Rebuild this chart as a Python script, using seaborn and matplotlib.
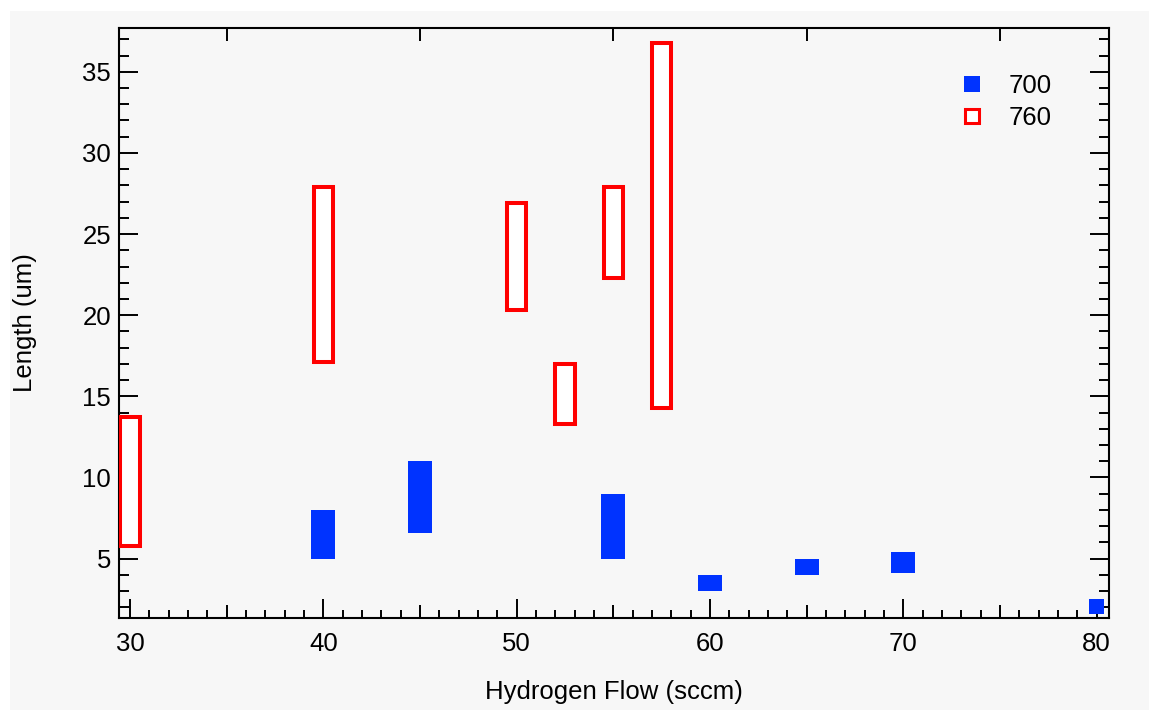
import numpy as np
import pandas as pd
import matplotlib
matplotlib.use("Agg")
import matplotlib.pyplot as plt
from matplotlib.ticker import MultipleLocator
from matplotlib.lines import Line2D
from matplotlib.patches import Rectangle
import seaborn as sns

# ---- data ----
flow_700 = [40, 45, 55, 60, 65, 70, 80]
low_700 = [5.0, 6.6, 5.0, 3.0, 4.0, 4.1, 1.6]
high_700 = [8.0, 11.0, 9.0, 4.0, 5.0, 5.4, 2.5]

flow_760 = [30, 40, 50, 52.5, 55, 57.5]
low_760 = [5.8, 17.1, 20.3, 13.3, 22.3, 14.3]
high_760 = [13.7, 27.9, 26.9, 17.0, 27.9, 36.8]

series_labels = ["700", "760"]
x_label = "Hydrogen Flow (sccm)"
y_label = "Length (um)"
x_ticks = [30, 40, 50, 60, 70, 80]
y_ticks = [5, 10, 15, 20, 25, 30, 35]

df700 = pd.DataFrame({"flow": flow_700, "low": low_700, "high": high_700})
df700["span"] = df700["high"] - df700["low"]
df760 = pd.DataFrame({"flow": flow_760, "low": low_760, "high": high_760})
df760["span"] = df760["high"] - df760["low"]

BLUE = "#0033FF"
RED = "#FF0000"
BG = "#F7F7F7"

sns.set_theme(style="ticks")
plt.rcParams["font.family"] = ["Liberation Sans", "DejaVu Sans"]

fig = plt.figure(figsize=(11.49, 7.10), dpi=100, facecolor="white")
fig.patches.append(Rectangle((10 / 1149, 0), 1 - 10 / 1149, 1 - 11 / 710,
                             transform=fig.transFigure, facecolor=BG,
                             edgecolor="none", zorder=-10))
ax = fig.add_axes([119.3 / 1149, 1 - 617.7 / 710, (1109 - 119.3) / 1149, (617.7 - 28.3) / 710])
ax.set_facecolor(BG)

# the 80 sccm bar is drawn narrower in the reference
main700 = df700.iloc[:-1]
last700 = df700.iloc[-1:]
sns.barplot(data=main700, x="flow", y="span", bottom=main700["low"].to_numpy(),
            native_scale=True, width=1.25 / 5, color=BLUE, saturation=1,
            linewidth=0, errorbar=None, ax=ax, zorder=3)
sns.barplot(data=last700, x="flow", y="span", bottom=last700["low"].to_numpy(),
            native_scale=True, width=0.8, color=BLUE, saturation=1,
            linewidth=0, errorbar=None, ax=ax, zorder=3)
sns.barplot(data=df760, x="flow", y="span", bottom=df760["low"].to_numpy(),
            native_scale=True, width=1.0 / 2.5, fill=False, color=RED,
            saturation=1, facecolor="white", edgecolor=RED, linewidth=2.9,
            errorbar=None, ax=ax, zorder=3)

ax.set_xlim(29.45, 80.64)
ax.set_ylim(1.36, 37.68)

ax.set_xticks(x_ticks)
ax.set_yticks(y_ticks)
ax.xaxis.set_minor_locator(MultipleLocator(1))
ax.yaxis.set_minor_locator(MultipleLocator(1))
ax.tick_params(which="both", direction="in", top=True, right=True,
               width=1.4, color="black", labelsize=18.5, labelcolor="black")
ax.tick_params(which="major", length=13.5)
ax.tick_params(axis="x", which="major", pad=10)
ax.tick_params(axis="y", which="major", pad=6)
ax.tick_params(axis="y", which="minor", length=7.2)
ax.tick_params(axis="x", which="minor", length=6)

for s in ax.spines.values():
    s.set_visible(True)
    s.set_linewidth(1.5)
    s.set_color("black")

# medium ticks at the odd multiples of 5 on x
ax2 = ax.twiny()
ax2.set_xlim(ax.get_xlim())
ax2.set_xticks([35, 45, 55, 65, 75])
ax2.tick_params(which="major", direction="in", top=True, bottom=True,
                labeltop=False, labelbottom=False, length=9.5, width=1.4, color="black")
ax2.xaxis.set_minor_locator(plt.NullLocator())
for s in ax2.spines.values():
    s.set_visible(False)
ax2.patch.set_visible(False)

ax.set_xlabel(x_label, fontsize=18.5, color="black")
ax.set_ylabel(y_label, fontsize=18.5, color="black")
ax.xaxis.set_label_coords(0.5, -0.105)
ax.yaxis.set_label_coords(-0.083, 0.5)

handles = [
    Line2D([], [], linestyle="none", marker="s", markersize=11.5,
           markerfacecolor=BLUE, markeredgecolor=BLUE, markeredgewidth=0),
    Line2D([], [], linestyle="none", marker="s", markersize=10,
           markerfacecolor="white", markeredgecolor=RED, markeredgewidth=2.2),
]
ax.legend(handles, series_labels, loc="upper left", bbox_to_anchor=(0.849, 0.922),
          frameon=False, fontsize=18.5, handlelength=1.0, handletextpad=0.9,
          borderpad=0, borderaxespad=0, labelspacing=0.3, labelcolor="black")

fig.savefig("out.png", dpi=100, facecolor=fig.get_facecolor())
